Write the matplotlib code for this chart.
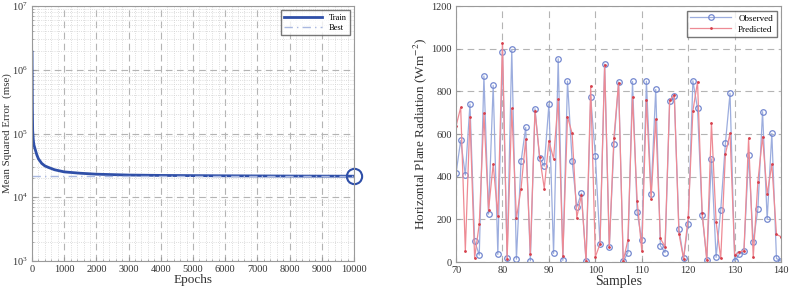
import numpy as np
import matplotlib
matplotlib.use("Agg")
import matplotlib.pyplot as plt
from matplotlib.ticker import MultipleLocator, LogLocator, NullFormatter

plt.rcParams['font.family'] = ['Liberation Serif', 'DejaVu Serif']
plt.rcParams['mathtext.fontset'] = 'stix'

# left panel: training curve
epochs = [0, 5, 10, 20, 40, 60, 100, 150, 200, 300, 400, 500, 700, 1000,
          1500, 2000, 3000, 4000, 6000, 8000, 10000]
mse = [1.9e6, 6e5, 2.5e5, 1.1e5, 7.8e4, 6.6e4, 5.6e4, 4.6e4, 4.0e4, 3.4e4,
       3.1e4, 2.95e4, 2.7e4, 2.5e4, 2.38e4, 2.3e4, 2.23e4, 2.2e4, 2.17e4,
       2.15e4, 2.14e4]
best_epoch = 10000
best_mse = 2.14e4

# right panel: observed vs predicted
samples = np.arange(70, 141)
observed = [416, 570, 408, 741, 100, 33, 872, 225, 828, 36,
            986, 20, 997, 14, 472, 631, 6, 719, 487, 450,
            741, 41, 953, 8, 848, 473, 258, 323, 3, 772,
            497, 83, 928, 70, 552, 844, 3, 45, 847, 233,
            102, 848, 320, 809, 77, 45, 755, 778, 156, 17,
            181, 850, 720, 223, 12, 484, 22, 244, 556, 791,
            5, 37, 52, 503, 92, 250, 705, 200, 603, 17, 5]
predicted = [637, 725, 53, 681, 20, 178, 697, 245, 459, 216,
             1028, 15, 720, 205, 345, 575, 40, 710, 494, 345,
             569, 484, 763, 30, 681, 603, 209, 314, 5, 825,
             25, 85, 923, 70, 584, 840, 5, 103, 775, 288,
             53, 759, 298, 670, 111, 72, 759, 783, 134, 15,
             213, 708, 845, 230, 10, 653, 189, 17, 506, 603,
             33, 48, 53, 581, 22, 377, 588, 317, 459, 130, 119]

grid_col = '#b4b4b4'
frame_col = '#9a9a9a'
text_col = '#333333'

fig = plt.figure(figsize=(7.89, 2.89), dpi=100)
ax1 = fig.add_axes([0.0406, 0.097, 0.408, 0.882])
ax2 = fig.add_axes([0.578, 0.093, 0.412, 0.886])

# ---- left
ax1.semilogy(epochs, mse, color='#2f4fa8', lw=2, label='Train')
ax1.axhline(best_mse, color='#a9b8e0', lw=1, ls=(0, (6, 3, 1, 3)), label='Best')
ax1.plot(best_epoch, best_mse, 'o', ms=11, mfc='none', mec='#2f4fa8', mew=1.5,
         clip_on=False)
ax1.set_xlim(0, 10000)
ax1.set_ylim(1e3, 1e7)
ax1.xaxis.set_major_locator(MultipleLocator(1000))
ax1.xaxis.set_minor_locator(MultipleLocator(200))
ax1.yaxis.set_minor_locator(LogLocator(base=10, subs=np.arange(2, 10)))
ax1.yaxis.set_minor_formatter(NullFormatter())
ax1.grid(which='major', color=grid_col, ls=(0, (6, 4)), lw=0.8)
ax1.grid(which='minor', color='#d2d2d2', ls=':', lw=0.6)
ax1.set_xlabel('Epochs', fontsize=9.5, color=text_col, labelpad=0)
ax1.set_ylabel('Mean Squared Error  (mse)', fontsize=7.8, color=text_col,
               labelpad=0)
ax1.legend(loc='upper right', fontsize=6, frameon=True, fancybox=False,
           edgecolor='#555555', handlelength=4.5, borderpad=0.4,
           labelspacing=0.3)

# ---- right
ax2.plot(samples, observed, '-o', color='#9cadde', lw=0.9, ms=4, mfc='none',
         mec='#7488cf', mew=0.9, label='Observed')
ax2.plot(samples, predicted, '-', color='#ee8a94', lw=0.9, marker='.', ms=2,
         mec='#d6404c', mfc='#d6404c', label='Predicted')
ax2.set_xlim(70, 140)
ax2.set_ylim(0, 1200)
ax2.xaxis.set_major_locator(MultipleLocator(10))
ax2.yaxis.set_major_locator(MultipleLocator(200))
ax2.grid(which='major', color=grid_col, ls=(0, (6, 4)), lw=0.8)
ax2.set_xlabel('Samples', fontsize=10, color=text_col, labelpad=0)
ax2.set_ylabel('Horizontal Plane Radiation (Wm$^{-2}$)', fontsize=9.5,
               color=text_col, labelpad=2)
ax2.legend(loc='upper right', fontsize=6.5, frameon=True, fancybox=False,
           edgecolor='#555555', handlelength=4.5, borderpad=0.4,
           labelspacing=0.3)

for ax in (ax1, ax2):
    ax.set_axisbelow(True)
    for sp in ax.spines.values():
        sp.set_color(frame_col)
    ax.tick_params(which='both', direction='in', colors=frame_col,
                   labelcolor=text_col, labelsize=7.5, length=3)
    ax.tick_params(axis='x', pad=3)
    ax.tick_params(axis='y', pad=3)
    ax.tick_params(which='minor', length=1.5)

fig.savefig('out.png', dpi=100)
